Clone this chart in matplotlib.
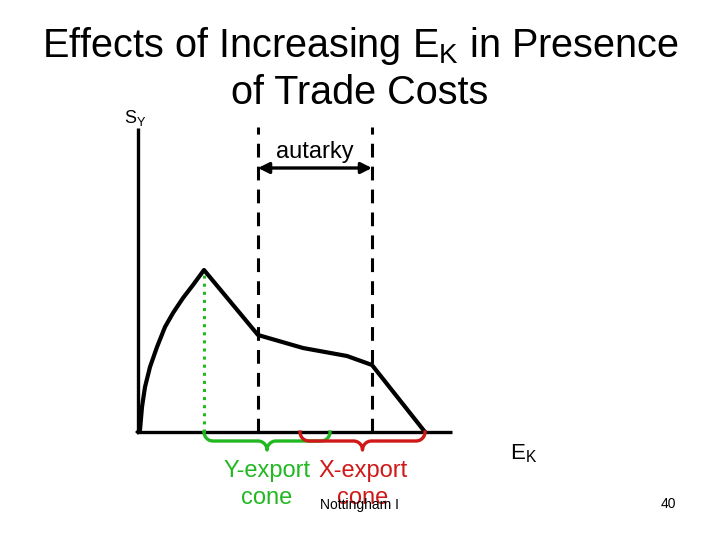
import matplotlib
matplotlib.use('Agg')
import matplotlib.pyplot as plt
import numpy as np

plt.rcParams['font.family'] = ['Liberation Sans', 'DejaVu Sans']
plt.rcParams['mathtext.fontset'] = 'custom'
plt.rcParams['mathtext.rm'] = 'Liberation Sans'
plt.rcParams['mathtext.it'] = 'Liberation Sans'

# 曲线数据 (EK, SY)
ek = [0, 2, 4, 7, 12, 19, 27, 35, 45, 55, 66, 120, 165, 209, 234, 287]
sy = [0, 2, 25, 45, 65, 85, 105, 119, 134, 147, 162, 97, 84, 76, 67, 0]
peak_ek, peak_sy = 66, 162
autarky_lo, autarky_hi = 120, 234
y_cone = [66, 192]
x_cone = [162, 287]

fig = plt.figure(figsize=(7.2, 5.4), dpi=100)
ax = fig.add_axes([0, 0, 1, 1])
ax.set_xlim(-138, 582)
ax.set_ylim(-108, 432)
ax.axis('off')

# 坐标轴
ax.plot([0, 0], [0, 304], color='k', lw=2.4, solid_capstyle='butt')
ax.plot([0, 314], [0, 0], color='k', lw=2.4, solid_capstyle='butt')

# 虚线
for x in [autarky_lo, autarky_hi]:
    ax.plot([x, x], [0, 305], color='k', lw=2.2, dashes=(4.5, 3))
ax.plot([peak_ek, peak_ek], [0, peak_sy], color='#22b822', lw=2.2, linestyle=':')

# 曲线
ax.plot(ek, sy, color='k', lw=3, solid_joinstyle='round')

# 自给自足箭头
ax.annotate('', xy=(autarky_lo, 264), xytext=(autarky_hi, 264),
            arrowprops=dict(arrowstyle='<|-|>', color='k', lw=2.4,
                            mutation_scale=16, shrinkA=0, shrinkB=0))
ax.text((autarky_lo + autarky_hi) / 2, 280, 'autarky', fontsize=17,
        ha='center', va='center')


def brace(x0, x1, color):
    r = 9
    mid = (x0 + x1) / 2
    t = np.linspace(0, np.pi / 2, 12)
    xs, ys = [], []
    xs += list(x0 + r - r * np.cos(t)); ys += list(-r * np.sin(t))
    xs += list(mid - r + r * np.sin(t)); ys += list(-r - r * (1 - np.cos(t)))
    xs += list(mid + r - r * np.sin(t[::-1])); ys += list(-r - r * (1 - np.cos(t[::-1])))
    xs += list(x1 - r + r * np.cos(t[::-1])); ys += list(-r * np.sin(t[::-1]))
    ax.plot(xs, ys, color=color, lw=2.4)


brace(y_cone[0], y_cone[1], '#22b822')
brace(x_cone[0], x_cone[1], '#d01818')

ax.text(129, -39, 'Y-export', color='#22b822', fontsize=17, ha='center', va='center')
ax.text(129, -66, 'cone', color='#22b822', fontsize=17, ha='center', va='center')
ax.text(225, -39, 'X-export', color='#d01818', fontsize=17, ha='center', va='center')
ax.text(225, -66, 'cone', color='#d01818', fontsize=17, ha='center', va='center')
ax.text(222, -73, 'Nottingham I', fontsize=10, ha='center', va='center')
ax.text(530, -72, '40', fontsize=10, ha='center', va='center')

ax.text(372, -22, r'E$_\mathrm{K}$', fontsize=16, ha='left', va='center')
ax.text(-14, 314, r'S$_\mathrm{Y}$', fontsize=13, ha='left', va='center')

ax.text(222, 386, r'Effects of Increasing E$_\mathrm{K}$ in Presence',
        fontsize=28.5, ha='center', va='center')
ax.text(222, 339, 'of Trade Costs', fontsize=28.5, ha='center', va='center')

fig.savefig('out.png', dpi=100)
